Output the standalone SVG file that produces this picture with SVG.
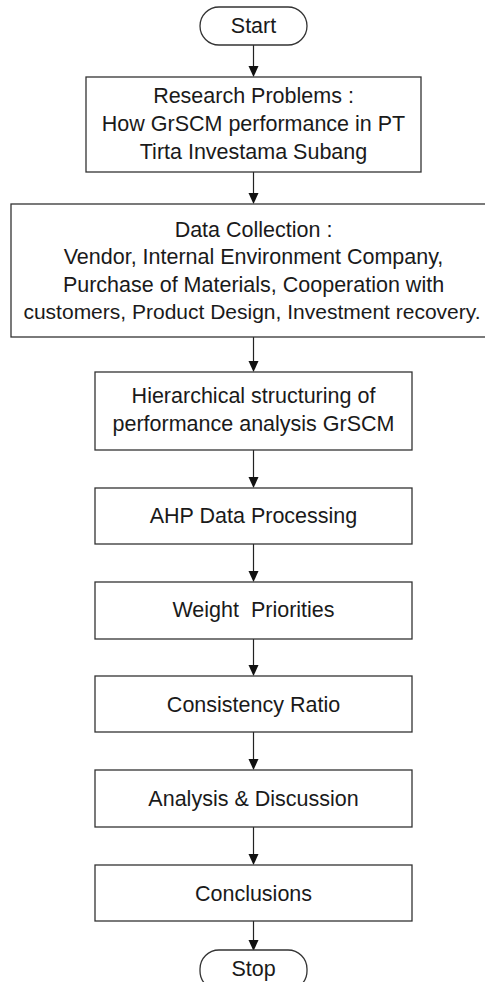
<svg xmlns="http://www.w3.org/2000/svg" width="485" height="982" viewBox="0 0 485 982">
<style>
  .box { fill: #ffffff; stroke: #333333; stroke-width: 1.3; }
  .t { font-family: "Liberation Sans", Arial, Helvetica, sans-serif; font-size: 21.5px; fill: #1a1a1a; text-anchor: middle; }
  .s { font-size: 21px; }
  .c { stroke: #222222; stroke-width: 1.2; fill: none; }
  .ah { fill: #111111; }
</style>
<rect width="485" height="982" fill="#ffffff"/>
<g id="connectors">
  <line class="c" x1="253.5" y1="45" x2="253.5" y2="67"/>
  <path class="ah" d="M248.5,66 L258.5,66 L253.5,77 Z"/>
  <line class="c" x1="253.5" y1="172" x2="253.5" y2="194"/>
  <path class="ah" d="M248.5,193 L258.5,193 L253.5,204 Z"/>
  <line class="c" x1="253.5" y1="337" x2="253.5" y2="362"/>
  <path class="ah" d="M248.5,361 L258.5,361 L253.5,372 Z"/>
  <line class="c" x1="253.5" y1="450" x2="253.5" y2="478"/>
  <path class="ah" d="M248.5,477 L258.5,477 L253.5,488 Z"/>
  <line class="c" x1="253.5" y1="544" x2="253.5" y2="572"/>
  <path class="ah" d="M248.5,571 L258.5,571 L253.5,582 Z"/>
  <line class="c" x1="253.5" y1="639" x2="253.5" y2="666"/>
  <path class="ah" d="M248.5,665 L258.5,665 L253.5,676 Z"/>
  <line class="c" x1="253.5" y1="732" x2="253.5" y2="760"/>
  <path class="ah" d="M248.5,759 L258.5,759 L253.5,770 Z"/>
  <line class="c" x1="253.5" y1="827" x2="253.5" y2="855"/>
  <path class="ah" d="M248.5,854 L258.5,854 L253.5,865 Z"/>
  <line class="c" x1="253.5" y1="921" x2="253.5" y2="941"/>
  <path class="ah" d="M248.5,940 L258.5,940 L253.5,951 Z"/>
</g>
<g id="start">
  <rect class="box" x="200" y="7" width="107" height="38" rx="19" ry="19"/>
  <text class="t" x="253.5" y="33">Start</text>
</g>
<g id="research">
  <rect class="box" x="86" y="77" width="335" height="95"/>
  <text class="t" x="253.5" y="103">Research Problems :</text>
  <text class="t" x="253.5" y="131">How GrSCM performance in PT</text>
  <text class="t" x="253.5" y="159">Tirta Investama Subang</text>
</g>
<g id="data">
  <rect class="box" x="11" y="204" width="480" height="133"/>
  <text class="t" x="253.5" y="236.5">Data Collection :</text>
  <text class="t" x="253.5" y="264">Vendor, Internal Environment Company,</text>
  <text class="t" x="253.5" y="291.5">Purchase of Materials, Cooperation with</text>
  <text class="t s" x="252" y="319">customers, Product Design, Investment recovery.</text>
</g>
<g id="hierarchical">
  <rect class="box" x="95" y="372" width="317" height="78"/>
  <text class="t" x="253.5" y="403">Hierarchical structuring of</text>
  <text class="t" x="253.5" y="431">performance analysis GrSCM</text>
</g>
<g id="ahp">
  <rect class="box" x="95" y="488" width="317" height="56"/>
  <text class="t" x="253.5" y="523">AHP Data Processing</text>
</g>
<g id="weight">
  <rect class="box" x="95" y="582" width="317" height="57"/>
  <text class="t" x="253.5" y="617" xml:space="preserve">Weight  Priorities</text>
</g>
<g id="consistency">
  <rect class="box" x="95" y="676" width="317" height="56"/>
  <text class="t" x="253.5" y="712">Consistency Ratio</text>
</g>
<g id="analysis">
  <rect class="box" x="95" y="770" width="317" height="57"/>
  <text class="t" x="253.5" y="806">Analysis &amp; Discussion</text>
</g>
<g id="conclusions">
  <rect class="box" x="95" y="865" width="317" height="56"/>
  <text class="t" x="253.5" y="901">Conclusions</text>
</g>
<g id="stop">
  <rect class="box" x="200" y="950" width="107" height="40" rx="19" ry="19"/>
  <text class="t" x="253.5" y="976">Stop</text>
</g>
</svg>
